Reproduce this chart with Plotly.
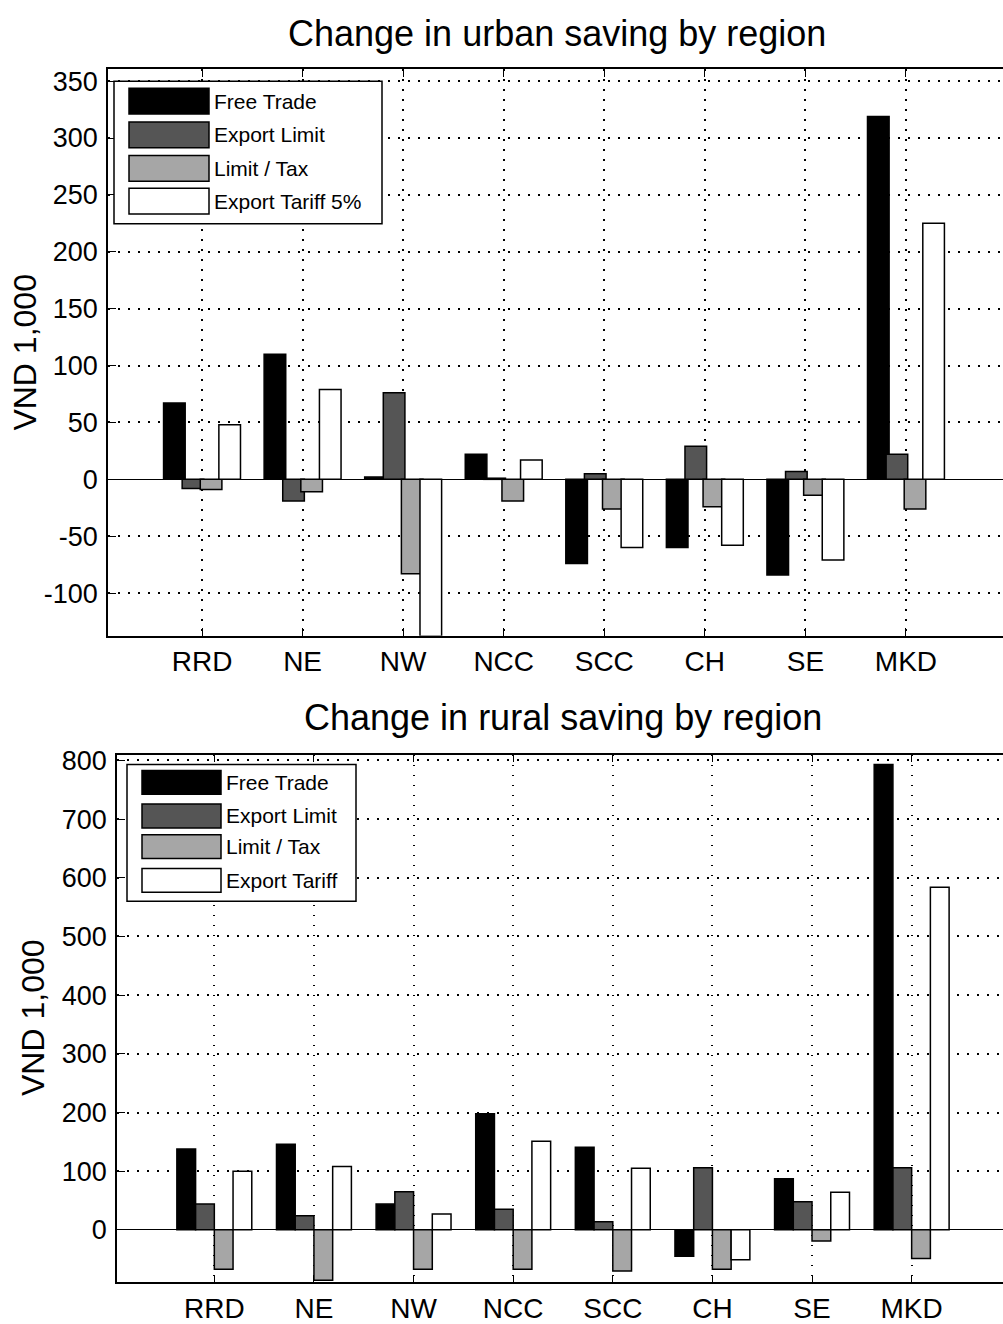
import plotly.graph_objects as go

W, H = 1003, 1324
FONT = "Liberation Sans, Arial, Helvetica, sans-serif"

# ---------------- data ----------------
regions = ["RRD", "NE", "NW", "NCC", "SCC", "CH", "SE", "MKD"]

series_urban = ["Free Trade", "Export Limit", "Limit / Tax", "Export Tariff 5%"]
series_rural = ["Free Trade", "Export Limit", "Limit / Tax", "Export Tariff"]
series_colors = ["#000000", "#555555", "#a6a6a6", "#ffffff"]

urban_free_trade = [67, 110, 2, 22, -74, -60, -84, 319]
urban_export_limit = [-8, -19, 76, 1, 5, 29, 7, 22]
urban_limit_tax = [-9, -11, -83, -19, -26, -24, -14, -26]
urban_export_tariff = [48, 79, -138, 17, -60, -58, -71, 225]

rural_free_trade = [138, 146, 44, 198, 141, -45, 87, 793]
rural_export_limit = [44, 24, 65, 35, 14, 106, 48, 106]
rural_limit_tax = [-67, -86, -67, -67, -70, -67, -19, -49]
rural_export_tariff = [100, 108, 27, 151, 105, -51, 64, 584]

urban_yticks = [-100, -50, 0, 50, 100, 150, 200, 250, 300, 350]
urban_yticklabels = ["-100", "-50", "0", "50", "100", "150", "200", "250", "300", "350"]
rural_yticks = [0, 100, 200, 300, 400, 500, 600, 700, 800]
rural_yticklabels = ["0", "100", "200", "300", "400", "500", "600", "700", "800"]

titles = ["Change in urban saving by region", "Change in rural saving by region"]
ylabel = "VND 1,000"

# ---------------- helpers ----------------
def px(x):
    return x / W


def py(y):
    return 1 - y / H


urban_values = [urban_free_trade, urban_export_limit, urban_limit_tax, urban_export_tariff]
rural_values = [rural_free_trade, rural_export_limit, rural_limit_tax, rural_export_tariff]

fig = go.Figure()

top_centers = [-0.275, -0.09, 0.09, 0.275]
top_width = 0.215
bot_centers = [-0.282, -0.094, 0.094, 0.282]
bot_width = 0.188

for name, vals, col, c in zip(series_urban, urban_values, series_colors, top_centers):
    fig.add_trace(go.Bar(
        x=regions, y=vals, name=name, xaxis="x", yaxis="y",
        width=top_width, offset=c - top_width / 2,
        marker=dict(color=col, line=dict(color="black", width=1.5)),
        showlegend=False,
    ))

for name, vals, col, c in zip(series_rural, rural_values, series_colors, bot_centers):
    fig.add_trace(go.Bar(
        x=regions, y=vals, name=name, xaxis="x2", yaxis="y2",
        width=bot_width, offset=c - bot_width / 2,
        marker=dict(color=col, line=dict(color="black", width=1.5)),
        showlegend=False,
    ))

grid_dash = "1.6px,8.4px"


def xaxis_cfg(domain, anchor, rng):
    return dict(
        domain=domain, anchor=anchor, type="category", range=rng,
        showgrid=True, gridcolor="black", gridwidth=1.6, griddash=grid_dash,
        showline=True, linecolor="black", linewidth=1.5, mirror="ticks",
        ticks="inside", ticklen=8, tickwidth=1.2, tickcolor="black",
        tickfont=dict(family=FONT, size=28, color="black"),
        zeroline=False,
    )


def yaxis_cfg(domain, anchor, rng, tv, tt):
    return dict(
        domain=domain, anchor=anchor, range=rng,
        tickmode="array", tickvals=tv, ticktext=tt,
        showgrid=True, gridcolor="black", gridwidth=1.6, griddash=grid_dash,
        zeroline=True, zerolinecolor="black", zerolinewidth=1.2,
        showline=True, linecolor="black", linewidth=1.5, mirror=False,
        ticks="inside", ticklen=8, tickwidth=1.2, tickcolor="black",
        ticklabelstandoff=3,
        tickfont=dict(family=FONT, size=27, color="black"),
    )


fig.update_layout(
    width=W, height=H, autosize=False,
    margin=dict(l=0, r=0, t=0, b=0),
    paper_bgcolor="white", plot_bgcolor="white",
    barmode="overlay",
    showlegend=False,
    xaxis=xaxis_cfg([px(108), 1.0], "y", [-0.935, 7.965]),
    yaxis=yaxis_cfg([py(633), py(61)], "x", [-137.5, 360.3], urban_yticks, urban_yticklabels),
    xaxis2=xaxis_cfg([px(117), 1.0], "y2", [-0.977, 7.917]),
    yaxis2=yaxis_cfg([py(1286), py(753)], "x2", [-89.5, 810], rural_yticks, rural_yticklabels),
)

annotations = []
shapes = []

# titles
annotations.append(dict(text=titles[0], x=px(557), y=py(25), xref="paper", yref="paper",
                        xanchor="center", yanchor="middle", showarrow=False,
                        font=dict(family=FONT, size=36, color="black")))
annotations.append(dict(text=titles[1], x=px(563), y=py(716), xref="paper", yref="paper",
                        xanchor="center", yanchor="middle", showarrow=False,
                        font=dict(family=FONT, size=36, color="black")))
# y labels
annotations.append(dict(text=ylabel, x=px(25), y=py(347), xref="paper", yref="paper",
                        xanchor="center", yanchor="middle", textangle=-90, showarrow=False,
                        font=dict(family=FONT, size=32, color="black")))
annotations.append(dict(text=ylabel, x=px(33), y=py(1019), xref="paper", yref="paper",
                        xanchor="center", yanchor="middle", textangle=-90, showarrow=False,
                        font=dict(family=FONT, size=32, color="black")))


def add_legend(box, sw_x, row_tops, sw_h, text_x, names):
    x0, y0, x1, y1 = box
    shapes.append(dict(type="rect", xref="paper", yref="paper",
                       x0=px(x0), x1=px(x1), y0=py(y1), y1=py(y0),
                       fillcolor="white", line=dict(color="black", width=1.5), layer="above"))
    for name, col, top in zip(names, series_colors, row_tops):
        shapes.append(dict(type="rect", xref="paper", yref="paper",
                           x0=px(sw_x[0]), x1=px(sw_x[1]), y0=py(top + sw_h), y1=py(top),
                           fillcolor=col, line=dict(color="black", width=1.5), layer="above"))
        annotations.append(dict(text=name, x=px(text_x), y=py(top + sw_h / 2),
                                xref="paper", yref="paper", xanchor="left", yanchor="middle",
                                showarrow=False, font=dict(family=FONT, size=21, color="black")))


add_legend((114, 73, 382, 217), (129, 209), [80, 114, 148, 181], 26, 212, series_urban)
add_legend((127, 763, 356, 901), (142, 221), [769, 803, 834, 868], 24, 224, series_rural)

fig.update_layout(annotations=annotations, shapes=shapes)

fig.write_html(
    "out.html",
    config={"displayModeBar": False},
    post_script="document.body.style.margin='0px';document.body.style.padding='0px';"
                "document.documentElement.style.overflow='hidden';",
)
